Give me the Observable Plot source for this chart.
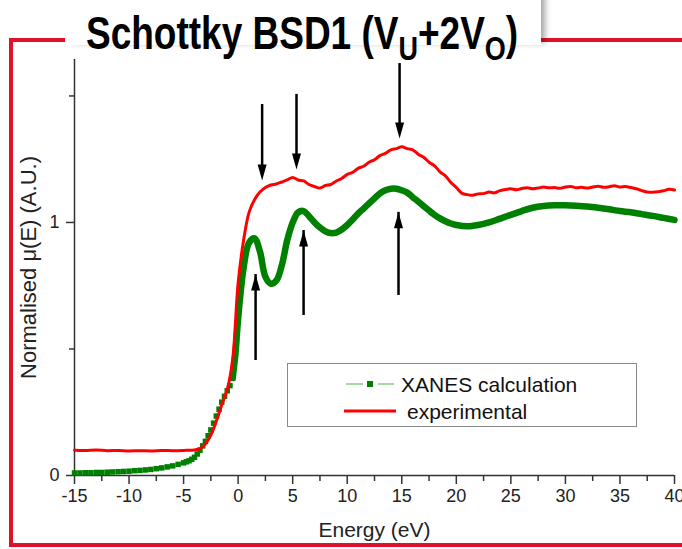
<!DOCTYPE html>
<html><head><meta charset="utf-8">
<script src="https://cdn.jsdelivr.net/npm/d3@7"></script>
<script src="https://cdn.jsdelivr.net/npm/@observablehq/plot@0.6"></script>
<style>
html,body{margin:0;padding:0;background:#fff;}
body{width:682px;height:549px;position:relative;overflow:hidden;font-family:"Liberation Sans",Arial,sans-serif;}
#frame{position:absolute;left:9px;top:38px;width:700px;height:509px;border:4.5px solid #e0112b;border-right:none;box-sizing:border-box;}
#chart{position:absolute;left:0;top:0;}
#tbox{position:absolute;left:65px;top:-10px;width:476px;height:55px;background:#fff;box-shadow:6px 0 6px -2px rgba(0,0,0,0.35);}
#title{position:absolute;left:0;top:0;}
#legend{position:absolute;left:287px;top:363px;width:350px;height:64px;border:1.5px solid #8a8a8a;box-sizing:border-box;background:#fff;}
#legend svg{position:absolute;left:0;top:0;}
</style>
</head><body>
<div id="frame"></div>
<div id="chart"></div>
<div id="tbox"></div>
<svg id="title" width="682" height="80">
<text transform="scale(1,1.25)" x="86" y="39.5" font-family="Liberation Sans, Arial, sans-serif" font-weight="bold" font-size="37" fill="#000">Schottky BSD1 (V<tspan font-size="27" dy="8.8">U</tspan><tspan dy="-8.8">+2V</tspan><tspan font-size="27" dy="8.8">O</tspan><tspan dy="-8.8">)</tspan></text>
</svg>
<div id="legend"></div>
<script>
// ---- data ----
const seriesNames = ["XANES calculation", "experimental"];
const xMajorTicks = [-15, -10, -5, 0, 5, 10, 15, 20, 25, 30, 35, 40];
const xMinorTicks = [-12.5, -7.5, -2.5, 2.5, 7.5, 12.5, 17.5, 22.5, 27.5, 32.5, 37.5];
const yMajorTicks = [0, 1];
const yMinorTicks = [0.5, 1.5];

const redE  = [-15,-14,-13,-12,-11,-10,-9,-8,-7,-6,-5,-4,-3.5,-3,-2.5,-2,-1.5,-1,-0.5,0,0.5,1,1.5,2,2.5,3,3.5,4,4.5,5,5.5,6,6.5,7,7.5,8,8.5,9,9.5,10,10.5,11,11.5,12,12.5,13,13.5,14,14.5,15,15.5,16,16.5,17,17.5,18,18.5,19,19.5,20,20.5,21,21.5,22,22.5,23,23.5,24,24.5,25,25.5,26,26.5,27,27.5,28,28.5,29,29.5,30,30.5,31,31.5,32,32.5,33,33.5,34,34.5,35,35.5,36,36.5,37,37.5,38,38.5,39,39.5,40];
const redMu = [0.100,0.099,0.101,0.098,0.099,0.097,0.098,0.097,0.099,0.098,0.099,0.101,
  0.106,0.125,0.160,0.215,0.280,0.340,0.460,0.760,0.930,1.040,1.090,1.120,1.138,1.148,1.152,1.160,1.168,1.178,1.168,1.164,1.150,1.142,1.136,1.146,1.150,1.164,1.174,1.190,1.198,1.214,1.222,1.238,1.248,1.264,1.273,1.287,1.292,1.299,1.292,1.287,1.270,1.258,1.238,1.224,1.200,1.184,1.158,1.138,
  1.116,1.110,1.108,1.113,1.114,1.120,1.117,1.126,1.130,1.133,1.129,1.134,1.137,1.133,1.136,1.140,1.137,1.138,1.135,1.140,1.142,1.137,1.139,1.136,1.140,1.143,1.139,1.141,1.145,1.140,1.142,1.138,1.133,1.126,1.120,1.119,1.121,1.125,1.131,1.128];

const greenE  = [-15,-14.5,-14,-13.5,-13,-12.5,-12,-11.5,-11,-10.5,-10,-9.5,-9,-8.5,-8,-7.5,-7,-6.5,-6,-5.5,-5,-4.75,-4.5,-4.25,-4,-3.75,-3.5,-3.25,-3,-2.75,-2.5,-2.25,-2,-1.75,-1.5,-1.25,-1,-0.75,-0.5,-0.25,0,0.5,1,1.5,2,2.5,3,3.5,4,4.5,5,5.5,6,6.5,7,7.5,8,8.5,9,9.5,10,10.5,11,11.5,12,12.5,13,13.5,14,14.5,15,15.5,16,16.5,17,17.5,18,18.5,19,19.5,20,21,22,23,24,25,26,27,28,29,30,31,32,33,34,35,36,37,38,39,40];
const greenMu = [0.010,0.010,0.011,0.011,0.012,0.012,0.013,0.014,0.015,0.016,0.017,0.019,0.020,0.022,0.024,0.027,0.030,0.034,0.038,0.044,0.050,0.054,0.058,0.064,0.072,0.085,0.100,0.117,0.135,0.157,0.180,0.207,0.235,0.262,0.290,0.313,0.335,0.355,0.385,0.480,0.620,0.820,0.920,0.937,0.885,0.785,0.758,0.770,0.830,0.930,1.000,1.040,1.045,1.025,1.000,0.980,0.965,0.958,0.960,0.972,0.990,1.012,1.035,1.055,1.075,1.095,1.115,1.127,1.133,1.133,1.127,1.118,1.100,1.083,1.065,1.047,1.030,1.016,1.005,0.996,0.990,0.985,0.990,1.000,1.015,1.030,1.045,1.058,1.065,1.068,1.068,1.066,1.063,1.058,1.052,1.045,1.040,1.033,1.026,1.018,1.010];

// annotation arrows (energy, start value, tip value)
const downArrowE   = [2.2, 5.35, 14.8];
const downArrowTop = [1.466, 1.506, 1.628];
const downArrowTip = [1.166, 1.209, 1.332];
const upArrowE    = [1.6, 6.0, 14.7];
const upArrowBase = [0.494, 0.672, 0.751];
const upArrowTip  = [0.794, 0.968, 1.040];

const xLabel = "Energy (eV)";
const yLabel = "Normalised \u03bc(E) (A.U.)";

// ---- build ----
const red = redE.map((e, i) => ({e, mu: redMu[i]}));
const green = greenE.map((e, i) => ({e, mu: greenMu[i]}));
const downArrows = downArrowE.map((e, i) => ({e, top: downArrowTop[i], tip: downArrowTip[i]}));
const upArrows = upArrowE.map((e, i) => ({e, base: upArrowBase[i], tip: upArrowTip[i]}));

const headDown = {draw(ctx) { ctx.moveTo(0, 0); ctx.lineTo(-4.5, -16); ctx.lineTo(4.5, -16); ctx.closePath(); }};
const headUp = {draw(ctx) { ctx.moveTo(0, 0); ctx.lineTo(-4.5, 16); ctx.lineTo(4.5, 16); ctx.closePath(); }};

const GREEN = "#008000", RED = "#ff0000", AX = "#333";
const font = "Liberation Sans, Arial, sans-serif";

const chart = Plot.plot({
  width: 682, height: 549,
  marginLeft: 74, marginRight: 8, marginTop: 59, marginBottom: 74,
  x: {domain: [-15, 40]},
  y: {domain: [0, 1.644]},
  style: {background: "transparent", fontFamily: font, color: "#222", overflow: "visible"},
  marks: [
    Plot.axisX({ticks: xMinorTicks, tickSize: 6, tickFormat: () => "", label: null, stroke: AX, strokeWidth: 1.5}),
    Plot.axisX({ticks: xMajorTicks, tickSize: 9, tickPadding: 5, tickFormat: d => String(d), fontSize: 18, label: null, stroke: AX, strokeWidth: 1.5, fill: "#222"}),
    Plot.axisY({ticks: yMinorTicks, tickSize: 5, tickFormat: () => "", label: null, stroke: AX, strokeWidth: 1.5}),
    Plot.axisY({ticks: yMajorTicks, tickSize: 8, tickPadding: 7, tickFormat: d => String(d), fontSize: 18, label: null, stroke: AX, strokeWidth: 1.5, fill: "#222"}),
    Plot.ruleY([0], {stroke: AX, strokeWidth: 1.5}),
    Plot.ruleX([-15], {stroke: AX, strokeWidth: 1.5}),
    Plot.text([xLabel], {frameAnchor: "bottom", text: d => d, dy: 55, lineAnchor: "middle", textAnchor: "middle", fontSize: 21, fill: "#222"}),
    Plot.text([yLabel], {frameAnchor: "left", text: d => d, rotate: -90, dx: -46, textAnchor: "middle", lineAnchor: "middle", fontSize: 22, fill: "#222"}),
    Plot.dot(green.filter(d => d.e <= 0), {x: "e", y: "mu", symbol: "square", r: 3.1, fill: GREEN}),
    Plot.line(green.filter(d => d.e >= -0.5), {x: "e", y: "mu", stroke: GREEN, strokeWidth: 6.5, curve: "catmull-rom"}),
    Plot.line(red, {x: "e", y: "mu", stroke: RED, strokeWidth: 3, curve: "catmull-rom"}),
    Plot.ruleX(downArrows, {x: "e", y1: "top", y2: "tip", stroke: "#000", strokeWidth: 2.5, insetBottom: 10}),
    Plot.dot(downArrows, {x: "e", y: "tip", symbol: headDown, fill: "#000"}),
    Plot.ruleX(upArrows, {x: "e", y1: "base", y2: "tip", stroke: "#000", strokeWidth: 2.5, insetTop: 10}),
    Plot.dot(upArrows, {x: "e", y: "tip", symbol: headUp, fill: "#000"})
  ]
});
document.getElementById("chart").appendChild(chart);

// legend
const leg = d3.select("#legend").append("svg").attr("width", 350).attr("height", 64);
leg.append("line").attr("x1", 58).attr("x2", 75).attr("y1", 20).attr("y2", 20).attr("stroke", "#6cbf6c").attr("stroke-width", 1.2);
leg.append("line").attr("x1", 90).attr("x2", 106).attr("y1", 20).attr("y2", 20).attr("stroke", "#6cbf6c").attr("stroke-width", 1.2);
leg.append("rect").attr("x", 79).attr("y", 17).attr("width", 6).attr("height", 6).attr("fill", GREEN);
leg.append("text").attr("x", 113).attr("y", 27.5).attr("font-family", font).attr("font-size", 21).attr("fill", "#111").text(seriesNames[0]);
leg.append("line").attr("x1", 56).attr("x2", 108).attr("y1", 47).attr("y2", 47).attr("stroke", RED).attr("stroke-width", 3);
leg.append("text").attr("x", 119).attr("y", 54.5).attr("font-family", font).attr("font-size", 21).attr("fill", "#111").text(seriesNames[1]);
</script>
</body></html>
